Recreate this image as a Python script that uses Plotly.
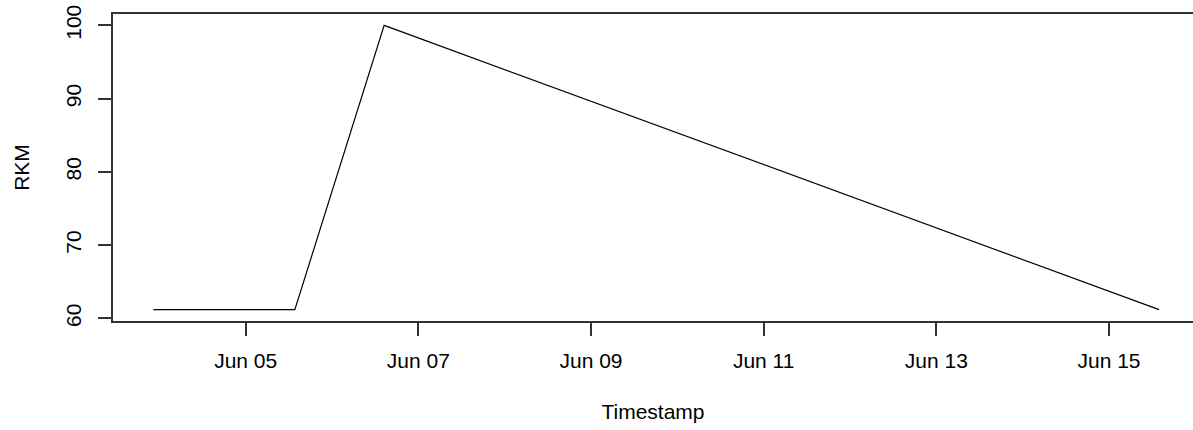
import pandas as pd
import plotly.graph_objects as go

# RKM readings over time
timestamps = ["2023-06-03 22:20", "2023-06-05 13:40", "2023-06-06 14:30", "2023-06-15 13:55"]
rkm = [61.2, 61.2, 100.0, 61.2]

tick_dates = ["2023-06-05", "2023-06-07", "2023-06-09", "2023-06-11", "2023-06-13", "2023-06-15"]
tick_text = [pd.Timestamp(d).strftime("%b %d") for d in tick_dates]
y_ticks = [60, 70, 80, 90, 100]

times = pd.to_datetime(timestamps)

# base-graphics style 4% padding on the value axis
ymin, ymax = min(rkm), max(rkm)
pad = 0.04 * (ymax - ymin)
y_range = [ymin - pad, ymax + pad]
x_range = ["2023-06-03 11:07", "2023-06-15 23:21"]

font = dict(family="Liberation Sans, Arial, sans-serif", size=21, color="black")

fig = go.Figure(
    go.Scatter(
        x=times,
        y=rkm,
        mode="lines",
        line=dict(color="black", width=1.2),
        hoverinfo="x+y",
    )
)

fig.update_layout(
    width=1193,
    height=430,
    margin=dict(l=113, r=0, t=14, b=109),
    paper_bgcolor="white",
    plot_bgcolor="white",
    showlegend=False,
    font=font,
)

fig.update_xaxes(
    range=x_range,
    tickvals=pd.to_datetime(tick_dates),
    ticktext=tick_text,
    ticks="outside",
    ticklen=13,
    tickwidth=1.5,
    tickcolor="#333",
    ticklabelstandoff=7,
    showline=True,
    linecolor="#333",
    linewidth=1.5,
    mirror=True,
    showgrid=False,
    zeroline=False,
    tickfont=font,
    title=dict(text="Timestamp", font=font, standoff=33),
)

fig.update_yaxes(
    range=y_range,
    tickvals=y_ticks,
    ticks="outside",
    ticklen=13,
    tickwidth=1.5,
    tickcolor="#333",
    tickangle=-90,
    ticklabelstandoff=9,
    showline=True,
    linecolor="#333",
    linewidth=1.5,
    mirror=False,
    showgrid=False,
    zeroline=False,
    tickfont=font,
    title=dict(text="RKM", font=font, standoff=26),
)

fig.write_html("out.html")
